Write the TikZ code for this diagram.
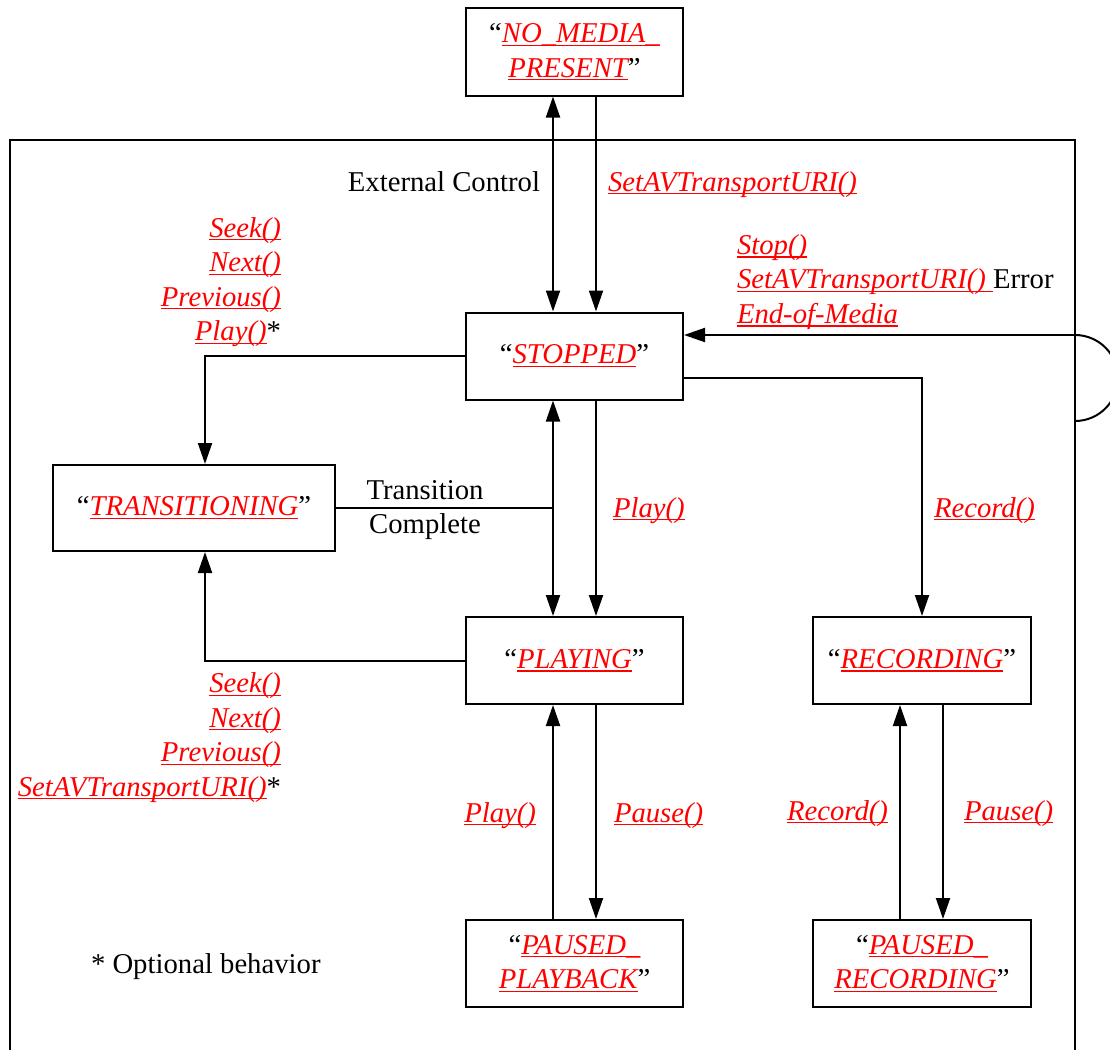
\documentclass[tikz,border=0pt]{standalone}
\usepackage{fontspec}
\setmainfont{Liberation Serif}
\usetikzlibrary{arrows.meta}
\newcommand\redul[1]{{\color{red}\itshape\setbox0\hbox{#1}\rlap{\rule[-3.2pt]{\wd0}{1.2pt}}\box0}}
\begin{document}
\begin{tikzpicture}[x=1pt,y=-1pt,
  font=\fontsize{28.7pt}{34.5pt}\selectfont,
  line width=2pt,
  state/.style={draw, minimum width=217pt, minimum height=87pt, inner sep=0pt, align=center},
  lbl/.style={inner sep=0pt, text height=20pt, text depth=6pt},
  arr/.style={-{Triangle[length=21pt,width=14pt]}},
  darr/.style={{Triangle[length=21pt,width=14pt]}-{Triangle[length=21pt,width=14pt]}}]
\useasboundingbox (0,0) rectangle (1110,1049);

% frame
\draw (10,1060) -- (10,140) -- (1075,140) -- (1075,1060);

% states
\node[state] (nomedia) at (574.5,52) {``\redul{NO\_MEDIA\_}\\\redul{PRESENT}''};
\node[state] (stopped) at (574.5,356) {``\redul{STOPPED}''};
\node[state, minimum width=282pt, minimum height=86pt] (trans) at (194,508) {``\redul{TRANSITIONING}''};
\node[state] (playing) at (574.5,660.5) {``\redul{PLAYING}''};
\node[state, minimum width=218pt] (recording) at (922,660.5) {``\redul{RECORDING}''};
\node[state] (pplay) at (574.5,963.5) {``\redul{PAUSED\_}\\\redul{PLAYBACK}''};
\node[state, minimum width=218pt] (prec) at (922,963.5) {``\redul{PAUSED\_}\\\redul{RECORDING}''};

% labels
\node[lbl, anchor=east] (extctl) at (541,184) {External Control};
\node[lbl, anchor=west] (seturi) at (607,184) {\redul{SetAVTransportURI()}};
\node[inner sep=0pt, anchor=east, align=right] (lbltop) at (282,282) {\redul{Seek()}\\\redul{Next()}\\\redul{Previous()}\\\redul{Play()}*};
\node[inner sep=0pt, anchor=west, align=left] (lblstop) at (736,282) {\redul{Stop()}\\\redul{SetAVTransportURI()\ }Error\\\redul{End-of-Media}};
\node[inner sep=0pt, align=center] (tc) at (425,510) {Transition\\Complete};
\node[lbl, anchor=west] (play1) at (612,510) {\redul{Play()}};
\node[lbl, anchor=west] (rec1) at (933,510) {\redul{Record()}};
\node[inner sep=0pt, anchor=east, align=right] (lblbot) at (282,737.5) {\redul{Seek()}\\\redul{Next()}\\\redul{Previous()}\\\redul{SetAVTransportURI()}*};
\node[lbl, anchor=east] (play2) at (537,815) {\redul{Play()}};
\node[lbl, anchor=west] (pause1) at (613,815) {\redul{Pause()}};
\node[lbl, anchor=east] (rec2) at (889,813) {\redul{Record()}};
\node[lbl, anchor=west] (pause2) at (963,813) {\redul{Pause()}};
\node[lbl, anchor=west] (opt) at (90,966) {* Optional behavior};

% column coordinates
\coordinate (xa) at (553,0);
\coordinate (xb) at (596,0);
\coordinate (xt) at (205,0);
\coordinate (xc) at (900,0);
\coordinate (xd) at (943,0);
\coordinate (loopA) at (1075,335);

% connectors
\draw[darr] (nomedia.south -| xa) -- (stopped.north -| xa);
\draw[arr] (nomedia.south -| xb) -- (stopped.north -| xb);
\draw[darr] (stopped.south -| xa) -- (playing.north -| xa);
\draw[arr] (stopped.south -| xb) -- (playing.north -| xb);
\draw[arr] (stopped.west) -| (trans.north -| xt);
\draw[arr] (playing.west) -| (trans.south -| xt);
\draw (trans.east) -- (trans.east -| xa);
\draw[arr] ([yshift=-22pt]stopped.east) -| (recording.north);
\draw[arr] (pplay.north -| xa) -- (playing.south -| xa);
\draw[arr] (playing.south -| xb) -- (pplay.north -| xb);
\draw[arr] (prec.north -| xc) -- (recording.south -| xc);
\draw[arr] (recording.south -| xd) -- (prec.north -| xd);
\draw[arr] (loopA) -- (stopped.east |- loopA);
\draw (loopA) arc[start angle=90, end angle=-90, radius=43pt];
\end{tikzpicture}
\end{document}
